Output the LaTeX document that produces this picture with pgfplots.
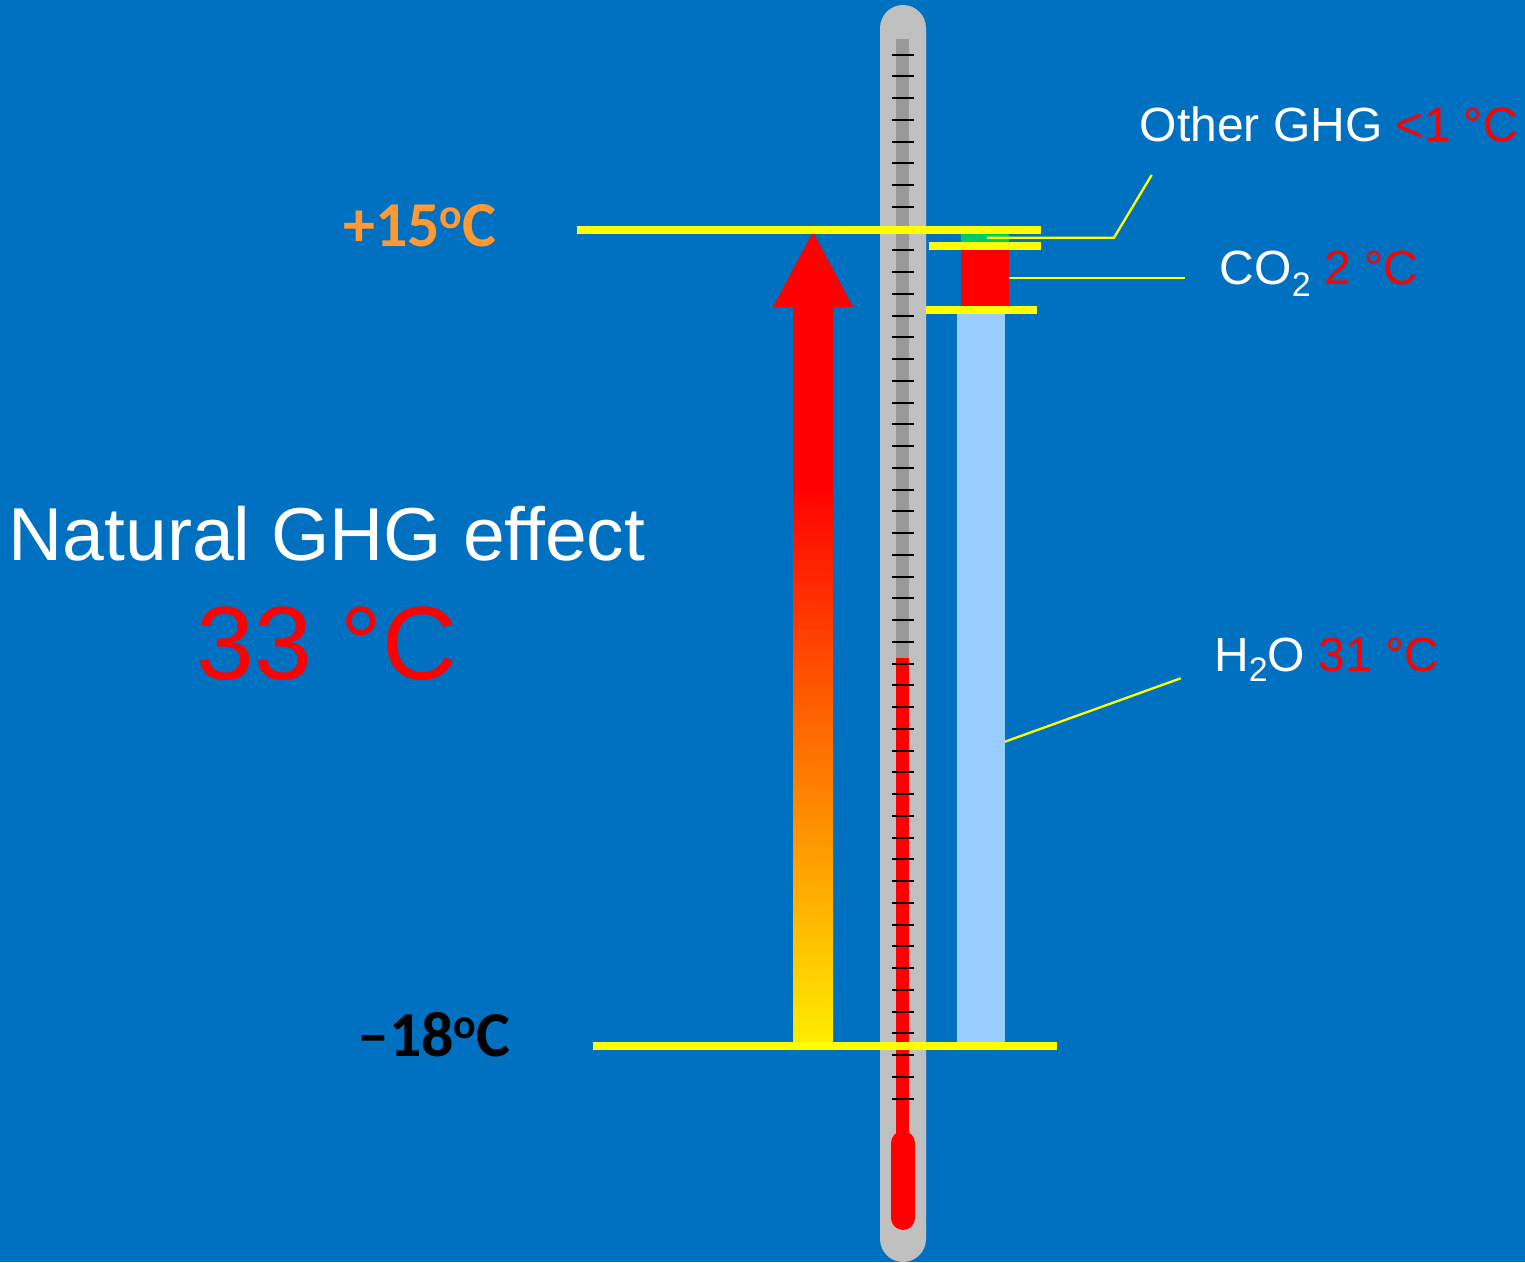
\documentclass[border=0pt]{standalone}
\usepackage{fontspec}
\setmainfont{Liberation Sans}
\newfontfamily\carlito{Carlito}
\usepackage{pgfplots}
\pgfplotsset{compat=1.18}
\definecolor{bgblue}{HTML}{0070C0}
\definecolor{thermgrey}{HTML}{C0C0C0}
\definecolor{stripgrey}{HTML}{999999}
\definecolor{hwblue}{HTML}{99CCFF}
\definecolor{ghggreen}{HTML}{00CC66}
\definecolor{labelorange}{HTML}{FF9933}
\definecolor{arrowyellow}{HTML}{FFEE00}
\definecolor{arroworange}{HTML}{FF7F00}
\definecolor{lineyellow}{HTML}{FFFF00}
\definecolor{hotred}{HTML}{FF0000}
\begin{document}
\begin{tikzpicture}
\begin{axis}[
  width=1525pt, height=1262pt, scale only axis,
  xmin=0, xmax=1525, ymin=-26.734, ymax=24.291,
  hide axis, clip=false
]
% background
\fill[bgblue] (rel axis cs:0,0) rectangle (rel axis cs:1,1);
% thermometer body
\fill[thermgrey, rounded corners=23pt] (axis cs:880,24.089) rectangle (axis cs:926,-26.734);
\fill[stripgrey] (axis cs:896,22.714) rectangle (axis cs:909,-2.313);
\fill[hotred] (axis cs:896,-2.313) rectangle (axis cs:909,-21.8);
\fill[hotred, rounded corners=12pt] (axis cs:891,-21.437) rectangle (axis cs:915,-25.44);
% thermometer ticks (drawn as horizontal error bars of half-length 11)
\addplot[forget plot, draw=none, mark=none,
  error bars/.cd, x dir=both, x fixed=11, error mark=none,
  error bar style={draw=black, line width=2pt}]
coordinates {
(903,22.080) (903,21.200) (903,20.321) (903,19.442) (903,18.562) (903,17.683) (903,16.804)
(903,15.924) (903,15.045) (903,14.165) (903,13.286) (903,12.407) (903,11.527) (903,10.648)
(903,9.769) (903,8.889) (903,8.010) (903,7.130) (903,6.251) (903,5.372) (903,4.492)
(903,3.613) (903,2.733) (903,1.854) (903,0.975) (903,0.095) (903,-0.784) (903,-1.664)
(903,-2.543) (903,-3.422) (903,-4.302) (903,-5.181) (903,-6.061) (903,-6.940) (903,-7.819)
(903,-8.699) (903,-9.578) (903,-10.458) (903,-11.337) (903,-12.216) (903,-13.096) (903,-13.975)
(903,-14.854) (903,-15.734) (903,-16.613) (903,-17.493) (903,-18.372) (903,-19.251) (903,-20.131)
};
% stacked contributions: H2O, CO2, other GHG (from -18 up to +15)
\addplot[forget plot, mark=none, draw=none, fill=hwblue] coordinates {(957,-18) (1005,-18) (1005,11.757) (957,11.757)} -- cycle;
\addplot[forget plot, mark=none, draw=none, fill=hotred] coordinates {(961,11.757) (1009,11.757) (1009,14.345) (961,14.345)} -- cycle;
\addplot[forget plot, mark=none, draw=none, fill=ghggreen] coordinates {(961,14.345) (1009,14.345) (1009,15) (961,15)} -- cycle;
% gradient arrow
\addplot[forget plot, mark=none, draw=none, top color=hotred, middle color=arroworange, bottom color=arrowyellow] coordinates {(793,-18) (833,-18) (833,4.682) (793,4.682)} -- cycle;
\addplot[forget plot, mark=none, draw=none, fill=hotred] coordinates {(793,4.5) (833,4.5) (833,11.879) (853,11.879) (813,14.911) (773,11.879) (793,11.879)} -- cycle;
% level lines
\addplot[forget plot, mark=none, lineyellow, line width=7.7pt] coordinates {(577,15) (1041,15)};
\addplot[forget plot, mark=none, lineyellow, line width=7.7pt] coordinates {(929,14.345) (1041,14.345)};
\addplot[forget plot, mark=none, lineyellow, line width=7.7pt] coordinates {(925.7,11.757) (1037,11.757)};
\addplot[forget plot, mark=none, lineyellow, line width=7.7pt] coordinates {(593,-18) (1057,-18)};
% leader lines
\addplot[forget plot, mark=none, lineyellow, line width=2.3pt] coordinates {(987,14.681) (1114,14.681) (1151.7,17.216)};
\addplot[forget plot, mark=none, lineyellow, line width=2.3pt] coordinates {(1009,13.063) (1185,13.063)};
\addplot[forget plot, mark=none, lineyellow, line width=2.3pt] coordinates {(1005,-5.697) (1180.7,-3.134)};
% labels
\node[anchor=base west, inner sep=0pt, text=labelorange, font=\carlito\bfseries\fontsize{64pt}{64pt}\selectfont]
  at (axis cs:343,14.305) {+15\raisebox{18pt}{\fontsize{42pt}{42pt}\selectfont o}C};
\node[anchor=base west, inner sep=0pt, text=black, font=\carlito\bfseries\fontsize{64pt}{64pt}\selectfont]
  at (axis cs:357,-18.445) {–18\raisebox{18pt}{\fontsize{42pt}{42pt}\selectfont o}C};
\node[anchor=base, inner sep=0pt, text=white, font=\fontsize{75pt}{75pt}\selectfont]
  at (axis cs:327,1.649) {Natural GHG effect};
\node[anchor=base, inner sep=0pt, text=hotred, font=\fontsize{104pt}{104pt}\selectfont]
  at (axis cs:327,-3.202) {33 °C};
\node[anchor=base west, inner sep=0pt, text=white, font=\fontsize{48pt}{48pt}\selectfont]
  at (axis cs:1139.7,18.562) {Other GHG \textcolor{hotred}{<1 °C}};
\node[anchor=base west, inner sep=0pt, text=white, font=\fontsize{48pt}{48pt}\selectfont]
  at (axis cs:1219.6,12.768) {CO\raisebox{-12pt}{\fontsize{34pt}{34pt}\selectfont 2} \textcolor{hotred}{2 °C}};
\node[anchor=base west, inner sep=0pt, text=white, font=\fontsize{48pt}{48pt}\selectfont]
  at (axis cs:1214,-2.867) {H\raisebox{-10pt}{\fontsize{34pt}{34pt}\selectfont 2}O \textcolor{hotred}{31 °C}};
\end{axis}
\end{tikzpicture}
\end{document}
